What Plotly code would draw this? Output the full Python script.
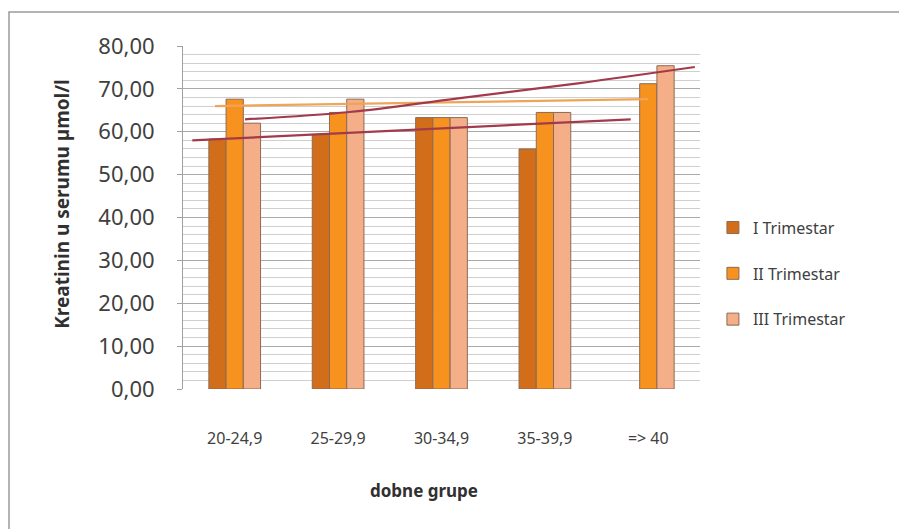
import plotly.graph_objects as go

categories = ["20-24,9", "25-29,9", "30-34,9", "35-39,9", "=> 40"]
series_names = ["I Trimestar", "II Trimestar", "III Trimestar"]
trim_I = [58.3, 59.4, 63.3, 56.0, None]
trim_II = [67.6, 64.5, 63.3, 64.5, 71.2]
trim_III = [62.0, 67.6, 63.3, 64.5, 75.4]

# trend lines (category position, value)
trendA_x = [-0.41, 3.83]
trendA_y = [58.0, 62.9]
trendB_x = [-0.19, 4.0]
trendB_y = [66.0, 67.6]
trendC_x = [0.10, 1.11, 2.16, 3.32, 4.45]
trendC_y = [62.9, 64.6, 67.8, 71.3, 75.1]

colors = ["#D26E1A", "#F7921F", "#F4AF88"]
xpos = list(range(len(categories)))

FONT = "Noto Sans"
L, T, PW, PH = 175, 38, 517, 343
W, H = 907, 529

fig = go.Figure()
for name, vals, col in zip(series_names, [trim_I, trim_II, trim_III], colors):
    fig.add_trace(go.Bar(
        x=xpos, y=vals, name=name, legendgroup=name,
        marker=dict(color=col, line=dict(color="#8C6A55", width=1)),
    ))

fig.add_trace(go.Scatter(x=trendB_x, y=trendB_y, mode="lines", showlegend=False,
                         line=dict(color="#F0A457", width=2.2)))
fig.add_trace(go.Scatter(x=trendA_x, y=trendA_y, mode="lines", showlegend=False,
                         line=dict(color="#A33A4C", width=2.2)))
fig.add_trace(go.Scatter(x=trendC_x, y=trendC_y, mode="lines", showlegend=False,
                         line=dict(color="#A33A4C", width=2.2, shape="spline")))

fig.update_layout(
    width=W, height=H,
    margin=dict(l=L, r=W - L - PW, t=T, b=H - T - PH),
    paper_bgcolor="white", plot_bgcolor="white",
    barmode="group", bargap=0.5, bargroupgap=0,
    font=dict(family=FONT, color="#404040"),
    separators=",.",
    legend=dict(x=1.025, y=0.52, xanchor="left", yanchor="top",
                font=dict(family=FONT, size=16, color="#404040"),
                traceorder="grouped", tracegroupgap=22,
                itemwidth=30, bgcolor="rgba(0,0,0,0)"),
    showlegend=True,
)

fig.update_xaxes(
    range=[-0.5, 4.5], tickvals=xpos, ticktext=categories,
    tickfont=dict(family=FONT, size=16, color="#404040"),
    showgrid=False, showline=False, zeroline=False, ticks="",
    ticklabelstandoff=38,
)
fig.update_yaxes(
    range=[0, 80], dtick=10, tickformat=".2f",
    tickfont=dict(family=FONT, size=22, color="#404040"),
    showgrid=True, gridcolor="#A9A9A9", gridwidth=1.2,
    minor=dict(dtick=2, showgrid=True, gridcolor="#CFCFCF", gridwidth=1),
    showline=True, linecolor="#A0A0A0", linewidth=1,
    ticks="outside", ticklen=5, tickcolor="#A0A0A0",
    zeroline=False, ticklabelstandoff=18,
)

fig.add_annotation(text="<b>Kreatinin u serumu µmol/l</b>", xref="paper", yref="paper",
                   x=(54 - L) / PW, y=0.54, xanchor="center", yanchor="middle",
                   textangle=-90, showarrow=False,
                   font=dict(family=FONT, size=19, color="#303030"))
fig.add_annotation(text="<b>dobne grupe</b>", xref="paper", yref="paper",
                   x=(416 - L) / PW, y=(T + PH - 482) / PH,
                   xanchor="center", yanchor="middle", showarrow=False,
                   font=dict(family=FONT, size=17, color="#303030"))

# outer chart frame (left and top visible)
fig.add_shape(type="rect", xref="paper", yref="paper",
              x0=(1 - L) / PW, x1=(1000 - L) / PW,
              y0=(T + PH - 600) / PH, y1=(T + PH - 4) / PH,
              line=dict(color="#9A9A9A", width=1.5), layer="below")

fig.write_html("out.html")
